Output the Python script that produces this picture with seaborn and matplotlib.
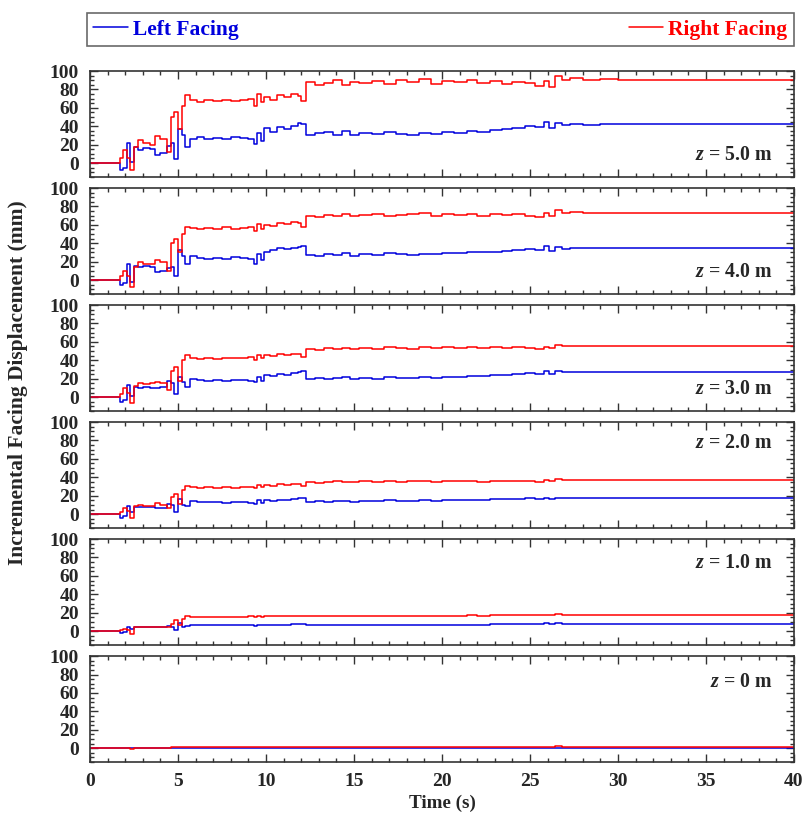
import numpy as np
import pandas as pd
import matplotlib
matplotlib.use("Agg")
import matplotlib.pyplot as plt
from matplotlib.ticker import MultipleLocator
from matplotlib.lines import Line2D
import seaborn as sns

# ---------------- data ----------------
time_s = [0, 1.7, 1.9, 2.1, 2.3, 2.5, 2.7, 3.0, 3.4, 3.7, 4.0, 4.4, 4.6, 4.8, 5.0,
          5.2, 5.4, 5.7, 6.1, 6.5, 7.0, 7.5, 8.0, 8.5, 9.0, 9.3, 9.5, 9.7, 9.9,
          10.2, 10.6, 11.0, 11.4, 11.8, 12.0, 12.3, 12.8, 13.3, 13.8, 14.3, 14.8,
          15.3, 16.0, 16.7, 17.4, 18.0, 18.7, 19.4, 20.0, 20.7, 21.4, 22.0, 22.7,
          23.4, 24.0, 24.7, 25.3, 25.8, 26.1, 26.4, 26.8, 27.3, 28.0, 29.0, 30.0,
          31.0, 32.0, 34.0, 36.0, 38.0, 40.0]

depths = ["5.0", "4.0", "3.0", "2.0", "1.0", "0"]

right_z50 = [0, 5, 14, 6, -8, 18, 25, 22, 20, 29, 26, 12, 50, 55, 37,
             62, 74, 68, 66, 68, 67, 69, 67, 68, 70, 62, 75, 66, 72,
             68, 74, 72, 75, 73, 67, 88, 85, 87, 90, 85, 88,
             87, 89, 86, 90, 88, 91, 86, 89, 88, 90, 87, 89,
             86, 88, 87, 84, 89, 83, 95, 90, 92, 90, 91, 90,
             90, 90, 90, 90, 90, 90]
left_z50 = [0, -8, -5, 22, 1, 17, 14, 16, 15, 9, 11, 19, 22, 4, 37,
            30, 18, 26, 28, 26, 27, 26, 28, 27, 26, 21, 33, 24, 38,
            34, 39, 37, 40, 43, 42, 31, 33, 34, 31, 35, 30,
            33, 32, 34, 32, 31, 33, 32, 34, 33, 35, 34, 36,
            37, 38, 40, 39, 45, 38, 44, 41, 42, 41, 42, 42,
            42, 42, 42, 42, 42, 42]

right_z40 = [0, 4, 10, 5, -8, 14, 20, 18, 17, 22, 20, 10, 40, 45, 30,
             50, 58, 57, 56, 57, 56, 58, 56, 57, 58, 53, 61, 56, 60,
             59, 62, 61, 63, 62, 58, 70, 69, 71, 70, 72, 70,
             71, 72, 70, 71, 72, 73, 70, 72, 71, 72, 70, 72,
             71, 72, 70, 69, 73, 70, 76, 73, 74, 73, 73, 73,
             73, 73, 73, 73, 73, 73]
left_z40 = [0, -5, -3, 17, -2, 15, 14, 15, 14, 9, 10, 13, 14, 4, 33,
            26, 18, 26, 24, 23, 24, 23, 25, 24, 23, 18, 28, 22, 31,
            33, 35, 34, 35, 36, 37, 27, 26, 28, 27, 29, 26,
            28, 27, 29, 28, 27, 28, 28, 29, 29, 30, 30, 31,
            32, 33, 34, 33, 37, 32, 36, 34, 35, 35, 35, 35,
            35, 35, 35, 35, 35, 35]

right_z30 = [0, 3, 10, 4, -6, 12, 15, 14, 15, 16, 15, 8, 28, 33, 17,
             40, 46, 42, 41, 42, 41, 43, 42, 42, 44, 40, 46, 42, 46,
             45, 47, 46, 47, 47, 44, 52, 51, 53, 52, 53, 52,
             53, 52, 54, 53, 52, 54, 53, 54, 53, 54, 53, 54,
             53, 54, 53, 52, 54, 53, 57, 55, 55, 55, 55, 55,
             55, 55, 55, 55, 55, 55]
left_z30 = [0, -5, -3, 13, 1, 11, 10, 11, 10, 10, 11, 17, 15, 3, 22,
            16, 11, 20, 19, 18, 19, 18, 19, 19, 18, 16, 22, 18, 24,
            23, 25, 24, 26, 27, 28, 20, 21, 20, 21, 22, 20,
            21, 20, 22, 21, 21, 22, 21, 22, 22, 23, 23, 24,
            24, 25, 26, 25, 28, 25, 28, 27, 27, 27, 27, 27,
            27, 27, 27, 27, 27, 27]

right_z20 = [0, 2, 7, 3, -4, 9, 10, 9, 9, 12, 10, 7, 19, 22, 11,
             26, 31, 29, 28, 29, 28, 29, 28, 29, 30, 28, 32, 29, 32,
             31, 33, 32, 33, 33, 31, 35, 34, 35, 36, 35, 35,
             36, 35, 36, 35, 36, 36, 35, 36, 36, 36, 35, 36,
             36, 36, 36, 35, 37, 36, 38, 37, 37, 37, 37, 37,
             37, 37, 37, 37, 37, 37]
left_z20 = [0, -4, -2, 9, 2, 8, 8, 8, 8, 7, 7, 11, 10, 2, 16,
            10, 9, 14, 13, 13, 13, 12, 13, 13, 12, 11, 15, 12, 15,
            14, 15, 15, 16, 17, 18, 13, 14, 13, 14, 14, 13,
            14, 14, 15, 14, 14, 15, 14, 15, 15, 15, 15, 16,
            16, 16, 17, 16, 18, 16, 18, 17, 17, 17, 17, 17,
            17, 17, 17, 17, 17, 17]

right_z10 = [0, 1, 2.5, 1, -3, 4, 4, 4, 4, 5, 4, 4, 8, 12, 7,
             13, 16, 15, 15, 15, 15, 15, 15, 15, 16, 15, 16, 15, 16,
             16, 16, 16, 16, 16, 16, 17, 17, 17, 17, 17, 17,
             17, 17, 17, 17, 17, 17, 17, 17, 17, 18, 17, 18,
             18, 18, 18, 18, 18, 18, 19, 18, 18, 18, 18, 18,
             18, 18, 18, 18, 18, 18]
left_z10 = [0, -2, -1, 4, 2, 4, 4, 4, 4, 4, 4, 6, 5, 1, 9,
            5, 6, 7, 7, 7, 7, 7, 7, 7, 7, 6, 7, 7, 7,
            7, 7, 7, 8, 8, 8, 7, 7, 7, 7, 7, 7,
            7, 7, 7, 7, 7, 7, 7, 7, 7, 7, 7, 8,
            8, 8, 8, 8, 9, 8, 9, 8, 8, 8, 8, 8,
            8, 8, 8, 8, 8, 8]

right_z00 = [0, 0, 0.5, 0, -0.5, 0.5, 0.5, 0.5, 0.5, 0.5, 0.5, 0.5, 0.8, 1.2, 1,
             1.5, 1.5, 1.5, 1.5, 1.5, 1.5, 1.5, 1.5, 1.5, 1.5, 1.5, 1.5, 1.5, 1.5,
             1.5, 1.5, 1.5, 1.5, 1.5, 1.5, 1.5, 1.5, 1.5, 1.5, 1.5, 1.5,
             1.5, 1.5, 1.5, 1.5, 1.5, 1.5, 1.5, 1.5, 1.5, 1.5, 1.5, 1.5,
             1.5, 1.5, 1.5, 1.5, 1.5, 1.5, 2.2, 1.5, 1.5, 1.5, 1.5, 1.5,
             1.5, 1.5, 1.5, 1.5, 1.5, 1.5]
left_z00 = [0, 0.5, 0.5, 0.5, 0.5, 0.5, 0.5, 0.5, 0.5, 0.5, 0.5, 0.5, 0.5, 0.5, 0.3,
            0.2, 0.2, 0.2, 0.2, 0.2, 0.2, 0.2, 0.2, 0.2, 0.2, 0.2, 0.2, 0.2, 0.2,
            0.2, 0.2, 0.2, 0.2, 0.2, 0.2, 0.2, 0.2, 0.2, 0.2, 0.2, 0.2,
            0.2, 0.2, 0.2, 0.2, 0.2, 0.2, 0.2, 0.2, 0.2, 0.2, 0.2, 0.2,
            0.2, 0.2, 0.2, 0.2, 0.2, 0.2, 0.2, 0.2, 0.2, 0.2, 0.2, 0.2,
            0.2, 0.2, 0.2, 0.2, 0.2, 0.2]

left_series = [left_z50, left_z40, left_z30, left_z20, left_z10, left_z00]
right_series = [right_z50, right_z40, right_z30, right_z20, right_z10, right_z00]

side_labels = ["Left Facing", "Right Facing"]
side_colors = {"Left Facing": "#0000dd", "Right Facing": "#ff0000"}

# ---------------- style ----------------
sns.set_style("ticks")
plt.rcParams["font.family"] = ["Liberation Serif", "DejaVu Serif"]
plt.rcParams["font.weight"] = "bold"
plt.rcParams["mathtext.fontset"] = "custom"
plt.rcParams["mathtext.it"] = "Liberation Serif:italic:bold"
plt.rcParams["mathtext.rm"] = "Liberation Serif:bold"

fig = plt.figure(figsize=(8.04, 8.19), dpi=100)
gs = fig.add_gridspec(6, 1, left=90 / 804, right=794 / 804,
                      top=1 - 71 / 819, bottom=1 - 762 / 819, hspace=0.105)

label_pos = [0.21, 0.21, 0.21, 0.80, 0.77, 0.76]
axes = []
for i, z in enumerate(depths):
    ax = fig.add_subplot(gs[i, 0])
    axes.append(ax)
    df = pd.concat([
        pd.DataFrame({"t": time_s, "d": left_series[i], "side": side_labels[0]}),
        pd.DataFrame({"t": time_s, "d": right_series[i], "side": side_labels[1]}),
    ])
    sns.lineplot(data=df, x="t", y="d", hue="side", hue_order=side_labels,
                 palette=side_colors, estimator=None, sort=False,
                 drawstyle="steps-post", linewidth=1.1, legend=False, ax=ax)
    ax.set_xlim(0, 40)
    ax.set_ylim(-15, 100)
    ax.xaxis.set_major_locator(MultipleLocator(5))
    ax.xaxis.set_minor_locator(MultipleLocator(1))
    ax.yaxis.set_major_locator(MultipleLocator(20))
    ax.yaxis.set_minor_locator(MultipleLocator(5))
    ax.tick_params(which="both", direction="in", top=True, right=True,
                   color="#333333", width=1.0)
    ax.tick_params(which="major", length=6, labelsize=14, pad=8)
    ax.tick_params(which="minor", length=3)
    ax.set_xlabel("")
    ax.set_ylabel("")
    for sp in ax.spines.values():
        sp.set_linewidth(1.2)
        sp.set_color("#333333")
    if i < 5:
        ax.tick_params(labelbottom=False)
    for lab in ax.get_yticklabels() + ax.get_xticklabels():
        lab.set_fontweight("bold")
    ax.text(0.969, label_pos[i], r"$z$ = " + z + " m", transform=ax.transAxes,
            ha="right", va="center", fontsize=14.3, fontweight="bold")

axes[-1].set_xlabel("Time (s)", fontsize=13.8, fontweight="bold", labelpad=3)
fig.text(18 / 804, 1 - 383 / 819, "Incremental Facing Displacement (mm)",
         rotation=90, ha="center", va="center", fontsize=15.5, fontweight="bold")

handles = [Line2D([], [], color=side_colors[s], lw=1.1) for s in side_labels]
leg = fig.legend(handles, side_labels, loc="lower left", ncol=2, mode="expand",
                 bbox_to_anchor=(87 / 804, 1 - 46 / 819, 707 / 804, 36 / 819),
                 bbox_transform=fig.transFigure, frameon=True, fancybox=False,
                 edgecolor="#444444", labelcolor="linecolor", handlelength=1.6,
                 handletextpad=0.25, borderaxespad=0, borderpad=0.3,
                 prop={"family": "Liberation Serif", "weight": "bold", "size": 15.5})
leg.get_frame().set_linewidth(1.2)

fig.savefig("out.png", dpi=100)
